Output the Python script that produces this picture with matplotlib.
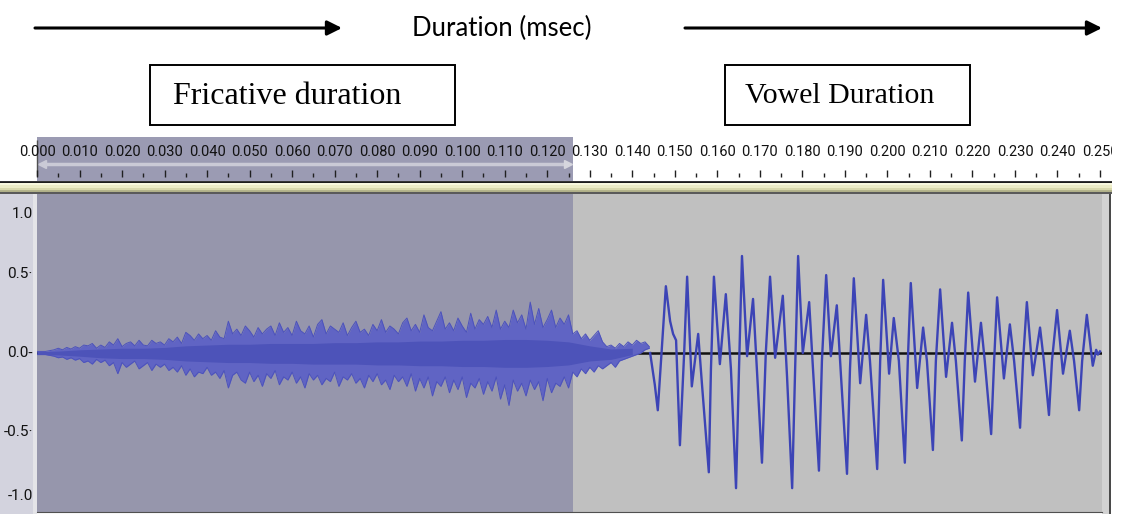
#!/usr/bin/env python3
"""
Waveform of a fricative + vowel token, drawn in the style of an
Audacity screenshot with duration annotations above it.
"""

import numpy as np
import matplotlib
matplotlib.use("Agg")
import matplotlib.pyplot as plt
from matplotlib.patches import Rectangle
from matplotlib import transforms

W, H = 1122, 514

# ruler ticks (seconds)
major_ticks = [round(0.01 * i, 3) for i in range(26)]
minor_ticks = [round(0.005 + 0.01 * i, 3) for i in range(25)]
amp_labels = ["1.0", "0.5", "0.0", "-0.5", "-1.0"]
amp_values = [1.0, 0.5, 0.0, -0.5, -1.0]

selection_end = 0.1261   # end of the highlighted fricative (s)

# fricative noise envelope, one value per ms from 0 to 144 ms
fric_ms = list(range(145))
fric_hi = [
    0.01, 0.01, 0.01, 0.015, 0.02, 0.03, 0.02, 0.035, 0.025, 0.04,
    0.03, 0.05, 0.045, 0.06, 0.03, 0.05, 0.035, 0.07, 0.05, 0.09,
    0.04, 0.06, 0.07, 0.045, 0.08, 0.05, 0.045, 0.08, 0.06, 0.07,
    0.05, 0.09, 0.07, 0.10, 0.06, 0.13, 0.11, 0.08, 0.12, 0.09,
    0.11, 0.08, 0.14, 0.10, 0.09, 0.20, 0.12, 0.15, 0.11, 0.17,
    0.14, 0.10, 0.16, 0.12, 0.15, 0.17, 0.11, 0.19, 0.13, 0.16,
    0.11, 0.20, 0.14, 0.12, 0.17, 0.10, 0.18, 0.21, 0.12, 0.17,
    0.15, 0.13, 0.19, 0.11, 0.16, 0.20, 0.13, 0.15, 0.11, 0.18,
    0.14, 0.21, 0.13, 0.17, 0.15, 0.12, 0.19, 0.22, 0.14, 0.18,
    0.13, 0.24, 0.16, 0.14, 0.20, 0.26, 0.15, 0.19, 0.14, 0.22,
    0.17, 0.13, 0.25, 0.15, 0.21, 0.18, 0.23, 0.16, 0.27, 0.15,
    0.20, 0.16, 0.27, 0.19, 0.24, 0.15, 0.32, 0.18, 0.28, 0.16,
    0.21, 0.27, 0.16, 0.22, 0.18, 0.24, 0.12, 0.14, 0.09, 0.12,
    0.08, 0.11, 0.14, 0.07, 0.04, 0.05, 0.03, 0.06, 0.04, 0.07,
    0.05, 0.08, 0.06, 0.07, 0.04,
]
fric_lo = [
    -0.01, -0.01, -0.01, -0.015, -0.02, -0.03, -0.025, -0.04, -0.03, -0.045,
    -0.035, -0.06, -0.05, -0.07, -0.04, -0.06, -0.045, -0.08, -0.06, -0.13,
    -0.06, -0.09, -0.07, -0.05, -0.10, -0.08, -0.06, -0.11, -0.07, -0.09,
    -0.07, -0.11, -0.09, -0.12, -0.08, -0.14, -0.10, -0.15, -0.12, -0.13,
    -0.09, -0.14, -0.12, -0.16, -0.11, -0.22, -0.14, -0.12, -0.17, -0.19,
    -0.12, -0.18, -0.14, -0.21, -0.13, -0.16, -0.11, -0.20, -0.15, -0.17,
    -0.12, -0.19, -0.15, -0.22, -0.13, -0.17, -0.14, -0.20, -0.16, -0.18,
    -0.12, -0.21, -0.15, -0.17, -0.13, -0.19, -0.16, -0.22, -0.14, -0.18,
    -0.13, -0.20, -0.17, -0.23, -0.14, -0.18, -0.15, -0.21, -0.13, -0.24,
    -0.16, -0.22, -0.15, -0.27, -0.18, -0.21, -0.15, -0.25, -0.17, -0.23,
    -0.15, -0.28, -0.19, -0.22, -0.16, -0.26, -0.18, -0.24, -0.15, -0.29,
    -0.20, -0.33, -0.17, -0.24, -0.19, -0.27, -0.17, -0.23, -0.18, -0.30,
    -0.16, -0.25, -0.19, -0.21, -0.15, -0.22, -0.12, -0.15, -0.10, -0.13,
    -0.09, -0.12, -0.08, -0.10, -0.08, -0.06, -0.09, -0.05, -0.04, -0.03,
    -0.02, -0.01, 0.0, 0.02, 0.03,
]

# dense core of the noise, every 5 ms
core_ms = list(range(0, 145, 5))
core_hi = [0.008, 0.012, 0.02, 0.025, 0.03, 0.03, 0.035, 0.045, 0.05, 0.055,
           0.055, 0.06, 0.06, 0.06, 0.065, 0.065, 0.07, 0.07, 0.075, 0.075,
           0.08, 0.08, 0.085, 0.085, 0.08, 0.07, 0.045, 0.025, 0.03]
core_lo = [-0.008, -0.012, -0.02, -0.03, -0.035, -0.035, -0.04, -0.05, -0.055, -0.06,
           -0.06, -0.065, -0.065, -0.07, -0.07, -0.07, -0.075, -0.075, -0.08, -0.08,
           -0.085, -0.085, -0.09, -0.09, -0.085, -0.075, -0.05, -0.04, -0.01]

# vowel: periodic voicing pulses (trough, main peak, dip, second peak ...)
vowel_ms = [
    144.2, 145.3, 146.0, 147.0, 147.9, 148.9, 149.6, 150.3, 151.2,
    152.2, 152.9, 154.0, 155.5, 156.4, 158.0,
    158.5, 159.2, 160.6, 162.0, 163.2, 164.4,
    165.1, 165.8, 167.0, 168.4, 169.3, 170.5,
    171.4, 172.4, 173.6, 175.4, 176.4, 177.6,
    178.3, 179.0, 180.1, 181.6, 182.5, 183.9,
    184.6, 185.6, 186.7, 188.1, 189.1, 190.5,
    191.2, 192.1, 193.6, 195.0, 195.9, 197.6,
    198.3, 199.0, 200.4, 201.5, 202.7, 204.1,
    204.8, 205.5, 207.0, 208.4, 209.3, 210.7,
    211.4, 212.4, 213.8, 215.2, 216.1, 217.5,
    218.2, 219.0, 220.6, 222.0, 222.9, 224.4,
    225.1, 225.8, 227.4, 228.8, 229.8, 231.2,
    231.9, 232.8, 234.2, 235.9, 236.8, 238.0,
    238.7, 239.9, 241.3, 242.9, 243.9, 245.1,
    245.8, 246.9, 248.3, 249.1, 249.5, 250.0,
]
vowel_amp = [
    0.00, -0.20, -0.36, 0.05, 0.42, 0.20, 0.12, 0.08, -0.58,
    0.00, 0.48, -0.21, 0.12, -0.20, -0.75,
    -0.10, 0.48, -0.07, 0.37, -0.10, -0.85,
    -0.10, 0.61, -0.02, 0.34, -0.10, -0.69,
    0.00, 0.48, -0.03, 0.36, -0.15, -0.85,
    -0.10, 0.61, 0.00, 0.32, -0.10, -0.74,
    -0.05, 0.49, -0.02, 0.30, -0.15, -0.76,
    -0.10, 0.47, -0.19, 0.24, -0.05, -0.73,
    -0.05, 0.46, -0.13, 0.22, -0.05, -0.69,
    -0.05, 0.44, -0.22, 0.16, -0.05, -0.61,
    -0.05, 0.40, -0.15, 0.19, -0.05, -0.55,
    -0.05, 0.38, -0.18, 0.19, -0.05, -0.51,
    -0.05, 0.35, -0.16, 0.18, -0.05, -0.47,
    -0.05, 0.32, -0.14, 0.16, -0.05, -0.39,
    -0.05, 0.27, -0.13, 0.14, -0.05, -0.36,
    -0.05, 0.24, -0.08, 0.02, -0.01, 0.01,
]

# pixel geometry of the screenshot
PX0 = 37          # x pixel of t = 0
PX_PER_S = 4252   # pixels per second


def px_axes(fig, x0, y0, x1, y1):
    return fig.add_axes([x0 / W, 1 - y1 / H, (x1 - x0) / W, (y1 - y0) / H])


def px_to_s(x):
    return (x - PX0) / PX_PER_S


fig = plt.figure(figsize=(W / 100, H / 100), dpi=100)
fig.patch.set_facecolor("white")

# background layer in pixel coordinates
bg = fig.add_axes([0, 0, 1, 1])
bg.set_xlim(0, W)
bg.set_ylim(H, 0)
bg.axis("off")

# top annotations
arrow = dict(arrowstyle="-|>", color="black", lw=2.2, mutation_scale=22,
             shrinkA=0, shrinkB=0)
bg.annotate("", xy=(342, 28), xytext=(35, 28), arrowprops=arrow)
bg.annotate("", xy=(1102, 28), xytext=(685, 28), arrowprops=arrow)
bg.text(502, 28, "Duration (msec)", ha="center", va="center",
        fontsize=18.5, family="Lato")

bg.add_patch(Rectangle((150, 65), 305, 60, facecolor="white",
                       edgecolor="black", lw=1.4))
bg.text(173, 97, "Fricative duration", ha="left", va="center",
        fontsize=23, family="Liberation Serif")
bg.add_patch(Rectangle((725, 65), 245, 60, facecolor="white",
                       edgecolor="black", lw=1.4))
bg.text(745, 96, "Vowel Duration", ha="left", va="center",
        fontsize=21.5, family="Liberation Serif")

# left amplitude panel and right border
bg.add_patch(Rectangle((0, 194), 33, 320, facecolor="#d3d3de", lw=0))
bg.add_patch(Rectangle((33, 194), 4, 320, facecolor="#e4e4e8", lw=0))
bg.add_patch(Rectangle((1102, 194), 7, 320, facecolor="#d2d2d2", lw=0))
bg.add_patch(Rectangle((1109, 194), 2, 320, facecolor="#4a4a4a", lw=0))

narrow = ["Roboto", "DejaVu Sans"]

# time ruler
ruler = px_axes(fig, 0, 137, 1112, 194)
ruler.set_xlim(px_to_s(0), px_to_s(1112))
ruler.set_ylim(194, 137)
ruler.axis("off")
ruler.add_patch(Rectangle((px_to_s(0), 137), px_to_s(1112) - px_to_s(0), 57,
                          facecolor="white", lw=0, zorder=0))
ruler.add_patch(Rectangle((0, 137), selection_end, 44,
                          facecolor="#9b9bb3", lw=0, zorder=1))
ruler.hlines(164, 0.0012, selection_end - 0.0012, color="#cacad6", lw=2.5, zorder=2)
ruler.plot([0.0012], [164], marker="<", ms=6, color="#cacad6", zorder=2)
ruler.plot([selection_end - 0.0012], [164], marker=">", ms=6, color="#d6d6de", zorder=2)
ruler.vlines(0, 140, 176, color="#505050", lw=1, zorder=3)
ruler.vlines(major_ticks, 170, 177.5, color="#202020", lw=1, zorder=3)
ruler.vlines(minor_ticks, 173.5, 177.5, color="#202020", lw=1, zorder=3)
for t in major_ticks:
    ruler.text(t, 152, f"{t:.3f}", ha="center", va="center", fontsize=10.5,
               family=narrow, color="#111111", zorder=4, clip_on=True)
ruler.axhline(182, color="#1c1c1c", lw=2, zorder=3)
for y0, y1, c in [(183, 185, "#f8f8de"), (185, 188, "#ececc6"),
                  (188, 190, "#d8d8ac"), (190, 192, "#b4b48c")]:
    ruler.axhspan(y0, y1, color=c, lw=0, zorder=3)
ruler.axhline(193, color="#5a5a5a", lw=1.5, zorder=3)

# waveform track
ax = px_axes(fig, PX0, 194, 1102, 512)
ax.set_xlim(0, px_to_s(1102))
ax.set_ylim(-1, 1)
ax.set_facecolor("#c0c0c0")
for s in ax.spines.values():
    s.set_visible(False)
ax.spines["bottom"].set_visible(True)
ax.spines["bottom"].set_color("#505050")
ax.set_xticks([])
ax.set_yticks([])
ax.axvspan(0, selection_end, color="#9696ac", lw=0, zorder=1)
ax.axhline(0, color="#111111", lw=1.8, zorder=2)

t_fric = np.array(fric_ms) / 1000
t_core = np.array(core_ms) / 1000
ax.fill_between(t_fric, fric_lo, fric_hi, color="#6064c4", lw=0, zorder=3)
ax.plot(t_fric, fric_hi, color="#4c52bc", lw=0.7, zorder=3)
ax.plot(t_fric, fric_lo, color="#4c52bc", lw=0.7, zorder=3)
ax.fill_between(t_core, core_lo, core_hi, color="#4d53b9", lw=0, zorder=4)
ax.plot(np.array(vowel_ms) / 1000, vowel_amp, color="#3c44b6", lw=1.7,
        solid_joinstyle="round", zorder=5)

# amplitude labels in the left panel
lab_tr = transforms.blended_transform_factory(bg.transData, ax.transData)
for lab, v in zip(amp_labels, amp_values):
    off = -20 if v == 1.0 else (16 if v == -1.0 else 0)
    mark = "" if abs(v) == 1.0 else ("-" if v == 0 else "\u00b7")
    ax.annotate(lab + mark, xy=(33, v), xycoords=lab_tr, xytext=(0, off),
                textcoords="offset pixels", ha="right", va="center",
                fontsize=11, family=narrow, color="#111111",
                annotation_clip=False)

fig.savefig("out.png", dpi=100, facecolor="white")
